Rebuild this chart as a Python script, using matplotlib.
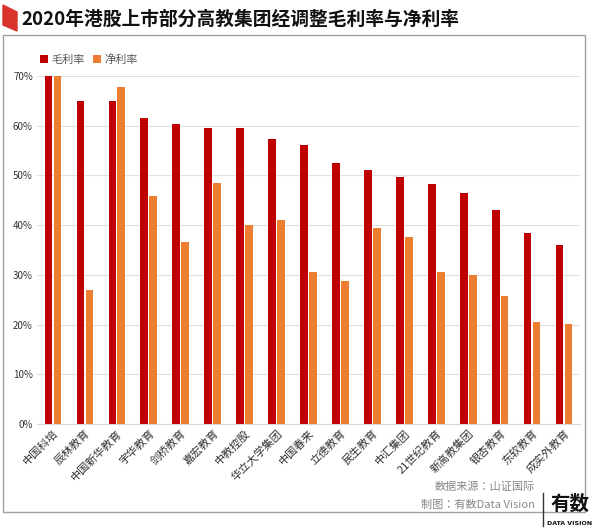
import matplotlib
matplotlib.use("Agg")
import matplotlib.pyplot as plt
import numpy as np
from matplotlib.patches import Rectangle, Polygon

plt.rcParams['font.family'] = ['Noto Sans CJK JP', 'Noto Sans CJK SC', 'Noto Sans CJK TC', 'DejaVu Sans']

categories = ["中国科培","辰林教育","中国新华教育","宇华教育","剑桥教育","嘉宏教育","中教控股",
              "华立大学集团","中国春来","立德教育","民生教育","中汇集团","21世纪教育","新高教集团",
              "银杏教育","东软教育","成实外教育"]
gross = [70.0,65.0,65.0,61.6,60.4,59.6,59.6,57.3,56.1,52.5,51.1,49.7,48.3,46.5,43.1,38.4,36.0]
net = [70.0,27.0,67.8,45.9,36.6,48.5,40.0,41.0,30.6,28.8,39.4,37.6,30.6,30.0,25.8,20.5,20.1]
yticks = [0,10,20,30,40,50,60,70]

W, H = 600, 531
fig = plt.figure(figsize=(W/100, H/100), dpi=100)
fig.patch.set_facecolor('white')

fig.patches.append(Rectangle((3/W, 1-512/H), 582/W, (512-35)/H, transform=fig.transFigure,
                             fill=False, edgecolor='#a0a0a0', lw=1))
fig.patches.append(Polygon([(3/W,1-5/H),(17/W,1-12/H),(17/W,1-31/H),(3/W,1-25/H)], closed=True,
                           transform=fig.transFigure, color='#d9342b'))
fig.text(21/W, 1-19/H, "2020年港股上市部分高教集团经调整毛利率与净利率", fontsize=13.5,
         fontweight='bold', va='center', ha='left', color='#111111')

ax = fig.add_axes([37/W, 1-424/H, (580-37)/W, (424-76)/H])
x = np.arange(len(categories))
w = 0.24
ax.bar(x-0.14, gross, w, color='#c00000', label='毛利率')
ax.bar(x+0.14, net, w, color='#ed7d31', label='净利率')
ax.set_ylim(0, 70)
ax.set_xlim(-0.5, len(categories)-0.5)
ax.set_yticks(yticks)
ax.set_yticklabels([f"{v}%" for v in yticks], fontsize=7, color='#333333')
ax.yaxis.grid(True, color='#e0e0e0', lw=0.8)
ax.set_axisbelow(True)
for s in ax.spines.values():
    s.set_visible(False)
ax.spines['bottom'].set_visible(True)
ax.spines['bottom'].set_color('#d9d9d9')
ax.tick_params(length=0, pad=3)
ax.set_xticks(x)
ax.set_xticklabels(categories, rotation=45, ha='right', rotation_mode='anchor', fontsize=8, color='#333333')
ax.legend(loc='upper left', bbox_to_anchor=(30/W, 1-44/H), bbox_transform=fig.transFigure,
          ncol=2, frameon=False, fontsize=8, handlelength=0.7, handleheight=0.7,
          columnspacing=0.8, handletextpad=0.3, labelcolor='#555555')

fig.text(535/W, 1-490/H, "数据来源：山证国际", fontsize=8, ha='right', color='#888888')
fig.text(535/W, 1-508/H, "制图：有数Data Vision", fontsize=8, ha='right', color='#888888')
fig.lines.append(plt.Line2D([543/W,543/W],[1-493/H,1-526/H], transform=fig.transFigure, color='#333333', lw=1))
fig.text(570/W, 1-510/H, "有数", fontsize=14, fontweight='bold', ha='center', color='#111111')
fig.text(570/W, 1-525/H, "DATA VISION", fontsize=4.5, fontweight='bold', ha='center', color='#111111',
         family='DejaVu Sans')

fig.savefig("out.png", dpi=100)
